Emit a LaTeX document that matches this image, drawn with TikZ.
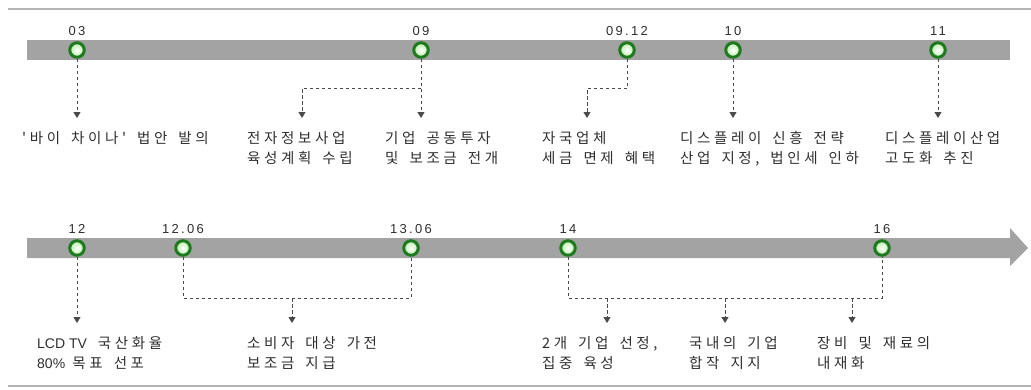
\documentclass[tikz,border=0pt]{standalone}
\usepackage{fontspec}
\setmainfont{Noto Sans CJK KR}
\newfontfamily\krtext[LetterSpace=25,WordSpace=1.6]{Noto Sans CJK KR}
\newfontfamily\latn{Liberation Sans}
\newfontfamily\yrfont[LetterSpace=18]{Liberation Sans}
\usetikzlibrary{arrows.meta}
\definecolor{bargray}{HTML}{A3A3A3}
\definecolor{rulegray}{HTML}{B4B4B4}
\definecolor{ringgreen}{HTML}{1E7A1E}
\definecolor{dotlight}{HTML}{B8EFA8}
\definecolor{txt}{HTML}{2E2E2E}
\definecolor{conncol}{HTML}{4A4A4A}
\begin{document}
\begin{tikzpicture}[x=1pt,y=-1pt,
  dot/.style={circle,draw=ringgreen,line width=3pt,inner color=white,outer color=dotlight,minimum size=14.5pt,inner sep=0},
  year/.style={font=\yrfont\fontsize{13}{13}\selectfont,text=txt,inner sep=0,anchor=base},
  desc/.style={font=\krtext\fontsize{14.5}{20}\selectfont,text=txt,align=left,inner sep=0,anchor=base west},
  link/.style={draw=conncol,line width=0.9pt,dash pattern=on 3.5pt off 2.5pt},
  arr/.style={link,-{Triangle[width=7pt,length=6pt]}}]
\useasboundingbox (0,0) rectangle (1031,389);
% rules
\draw[rulegray,line width=2pt] (8,9) -- (1031,9);
\draw[rulegray,line width=2pt] (8,386) -- (1031,386);
% bars
\fill[bargray] (27,40) rectangle (1010,60);
\fill[bargray] (27,238) -- (1010,238) -- (1010,228) -- (1028,248) -- (1010,266) -- (1010,258) -- (27,258) -- cycle;
% helper coordinates
\coordinate (ytop) at (0,118);
\coordinate (ybot) at (0,323);
\coordinate (jtop) at (0,88);
\coordinate (jbot) at (0,298);
% top row dots
\node[dot] (c03) at (77,50) {};
\node[dot] (c09) at (421,50) {};
\node[dot] (c0912) at (627,50) {};
\node[dot] (c10) at (733,50) {};
\node[dot] (c11) at (938,50) {};
\node[year] (y03) at (77,35) {03};
\node[year] (y09) at (421,35) {09};
\node[year] (y0912) at (627,35) {09.12};
\node[year] (y10) at (733,35) {10};
\node[year] (y11) at (938,35) {11};
% bottom row dots
\node[dot] (c12) at (77,248) {};
\node[dot] (c1206) at (183,248) {};
\node[dot] (c1306) at (411,248) {};
\node[dot] (c14) at (568,248) {};
\node[dot] (c16) at (882,248) {};
\node[year] (y12) at (77,233) {12};
\node[year] (y1206) at (183,233) {12.06};
\node[year] (y1306) at (411,233) {13.06};
\node[year] (y14) at (568,233) {14};
\node[year] (y16) at (882,233) {16};
% texts top (base = last line)
\node[desc] (t03) at (22,143) {'바이 차이나' 법안 발의};
\node[desc] (t09a) at (247,163) {전자정보사업\\육성계획 수립};
\node[desc] (t09b) at (385,163) {기업 공동투자\\및 보조금 전개};
\node[desc] (t0912) at (542,163) {자국업체\\세금 면제 혜택};
\node[desc] (t10) at (680,163) {디스플레이 신흥 전략\\산업 지정, 법인세 인하};
\node[desc] (t11) at (885,163) {디스플레이산업\\고도화 추진};
% texts bottom
\node[desc] (t12) at (37,368) {{\latn\fontsize{14}{20}\selectfont LCD TV} 국산화율\\{\latn\fontsize{14}{20}\selectfont 80\%}\enspace 목표 선포};
\node[desc] (t1206) at (247,368) {소비자 대상 가전\\보조금 지급};
\node[desc] (t14a) at (542,368) {2개 기업 선정,\\집중 육성};
\node[desc] (t14b) at (689,368) {국내의 기업\\합작 지지};
\node[desc] (t14c) at (817,368) {장비 및 재료의\\내재화};
% connectors top
\draw[arr] (c03) -- (c03 |- ytop);
\draw[arr] (c09) -- (c09 |- ytop);
\draw[arr] (c09 |- jtop) -| (302,118);
\draw[link] (c0912) -- (c0912 |- jtop);
\draw[arr] (c0912 |- jtop) -| (587,118);
\draw[arr] (c10) -- (c10 |- ytop);
\draw[arr] (c11) -- (c11 |- ytop);
% connectors bottom
\draw[arr] (c12) -- (c12 |- ybot);
\draw[link] (c1206) |- (c1306 |- jbot) -- (c1306);
\draw[arr] (292,298) -- (292,323);
\draw[link] (c14) |- (c16 |- jbot) -- (c16);
\draw[arr] (607,298) -- (607,323);
\draw[arr] (725,298) -- (725,323);
\draw[arr] (852,298) -- (852,323);
\end{tikzpicture}
\end{document}
